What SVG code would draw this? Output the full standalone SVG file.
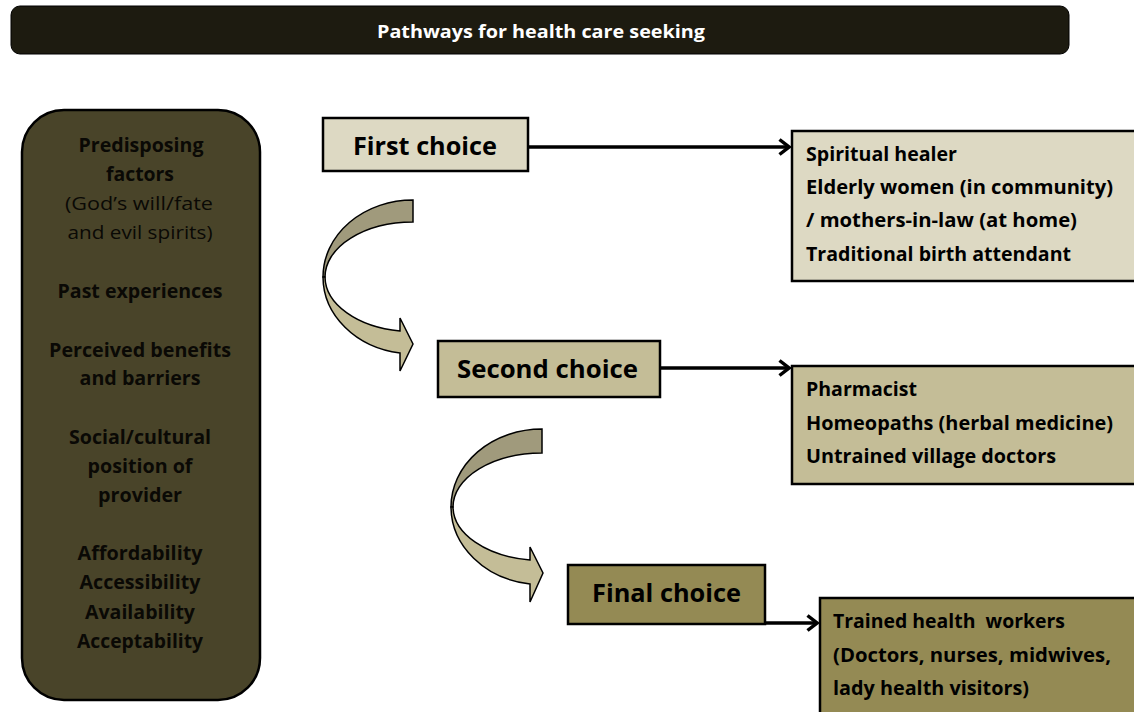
<svg xmlns="http://www.w3.org/2000/svg" width="1134" height="712" viewBox="0 0 1134 712">
<style>
.t{font-family:"Open Sans","Liberation Sans",sans-serif;font-weight:bold;fill:#000}
.r{font-weight:normal}
.box{stroke:#000;stroke-width:2.5}
.lbl{font-size:19px}
.side{font-size:19px;text-anchor:middle;fill:#0a0905}
.big{font-size:25px;text-anchor:middle}
.conn{stroke:#000;stroke-width:3.5;fill:none}
.curve{stroke:#000;stroke-width:1.5}
</style>
<defs>
<marker id="chev" markerWidth="13" markerHeight="18" refX="11" refY="9" orient="auto" markerUnits="userSpaceOnUse">
<polyline points="1.5,1.5 11,9 1.5,16.5" fill="none" stroke="#000" stroke-width="3.5"/>
</marker>
</defs>
<rect width="1134" height="712" fill="#fff"/>
<g id="title">
<rect x="11" y="6" width="1058" height="48" rx="9" fill="#1d1b10" stroke="#000" stroke-width="1"/>
<text x="541" y="38" class="t" style="font-size:18px;fill:#fff;text-anchor:middle" textLength="328" lengthAdjust="spacingAndGlyphs">Pathways for health care seeking</text>
</g>
<g id="factors">
<rect x="22" y="110" width="238" height="590" rx="42" fill="#494429" stroke="#000" stroke-width="2.5"/>
<text class="t side" x="141" y="152" textLength="125" lengthAdjust="spacingAndGlyphs">Predisposing</text>
<text class="t side" x="140" y="181" textLength="68" lengthAdjust="spacingAndGlyphs">factors</text>
<text class="t side r" x="139" y="210" textLength="148" lengthAdjust="spacingAndGlyphs">(God’s will/fate</text>
<text class="t side r" x="140" y="239" textLength="145" lengthAdjust="spacingAndGlyphs">and evil spirits)</text>
<text class="t side" x="140" y="298" textLength="165" lengthAdjust="spacingAndGlyphs">Past experiences</text>
<text class="t side" x="140" y="357" textLength="182" lengthAdjust="spacingAndGlyphs">Perceived benefits</text>
<text class="t side" x="140" y="385" textLength="121" lengthAdjust="spacingAndGlyphs">and barriers</text>
<text class="t side" x="140" y="444" textLength="142" lengthAdjust="spacingAndGlyphs">Social/cultural</text>
<text class="t side" x="140" y="473" textLength="105" lengthAdjust="spacingAndGlyphs">position of</text>
<text class="t side" x="140" y="502" textLength="84" lengthAdjust="spacingAndGlyphs">provider</text>
<text class="t side" x="140" y="560" textLength="125" lengthAdjust="spacingAndGlyphs">Affordability</text>
<text class="t side" x="140" y="589" textLength="121" lengthAdjust="spacingAndGlyphs">Accessibility</text>
<text class="t side" x="140" y="619" textLength="110" lengthAdjust="spacingAndGlyphs">Availability</text>
<text class="t side" x="140" y="648" textLength="126" lengthAdjust="spacingAndGlyphs">Acceptability</text>
</g>
<g id="first">
<rect class="box" x="323" y="118" width="205" height="53" fill="#ddd9c3"/>
<text class="t big" x="425" y="155" textLength="144" lengthAdjust="spacingAndGlyphs">First choice</text>
</g>
<g id="second">
<rect class="box" x="438" y="341" width="222" height="56" fill="#c4bd97"/>
<text class="t big" x="547.5" y="378" textLength="181" lengthAdjust="spacingAndGlyphs">Second choice</text>
</g>
<g id="final">
<rect class="box" x="568" y="565" width="197" height="59" fill="#948a54"/>
<text class="t big" x="666.5" y="602" textLength="149" lengthAdjust="spacingAndGlyphs">Final choice</text>
</g>
<g id="first-providers">
<rect class="box" x="792" y="131" width="350" height="150" fill="#ddd9c3"/>
<text class="t lbl" x="806" y="161" textLength="151" lengthAdjust="spacingAndGlyphs">Spiritual healer</text>
<text class="t lbl" x="806" y="194" textLength="307" lengthAdjust="spacingAndGlyphs">Elderly women (in community)</text>
<text class="t lbl" x="806" y="227" textLength="271" lengthAdjust="spacingAndGlyphs">/ mothers-in-law (at home)</text>
<text class="t lbl" x="806" y="261" textLength="265" lengthAdjust="spacingAndGlyphs">Traditional birth attendant</text>
</g>
<g id="second-providers">
<rect class="box" x="792" y="366" width="350" height="118" fill="#c4bd97"/>
<text class="t lbl" x="806" y="396" textLength="111" lengthAdjust="spacingAndGlyphs">Pharmacist</text>
<text class="t lbl" x="806" y="430" textLength="307" lengthAdjust="spacingAndGlyphs">Homeopaths (herbal medicine)</text>
<text class="t lbl" x="806" y="463" textLength="250" lengthAdjust="spacingAndGlyphs">Untrained village doctors</text>
</g>
<g id="final-providers">
<rect class="box" x="820" y="598" width="322" height="130" fill="#948a54"/>
<text class="t lbl" x="833" y="628" style="white-space:pre" textLength="232" lengthAdjust="spacingAndGlyphs">Trained health  workers</text>
<text class="t lbl" x="833" y="662" textLength="278" lengthAdjust="spacingAndGlyphs">(Doctors, nurses, midwives,</text>
<text class="t lbl" x="833" y="695" textLength="196" lengthAdjust="spacingAndGlyphs">lady health visitors)</text>
</g>
<g id="connectors">
<line class="conn" x1="528" y1="147" x2="789" y2="147" marker-end="url(#chev)"/>
<line class="conn" x1="660" y1="368" x2="789" y2="368" marker-end="url(#chev)"/>
<line class="conn" x1="765" y1="623" x2="817" y2="623" marker-end="url(#chev)"/>
<path class="curve" fill="#a09a7c" d="M413,200 A90,77 0 0 0 323,277 L325,277 A88,55 0 0 1 413,222 Z"/>
<path class="curve" fill="#c4bd97" d="M323,277 A90,77 0 0 0 400,353 L400,371 L413,344 L400,318 L400,331 A88,55 0 0 1 325,277 Z"/>
<path class="curve" fill="#a09a7c" d="M542,429 A91,78 0 0 0 451,507 L453,507 A89,54 0 0 1 542,453 Z"/>
<path class="curve" fill="#c4bd97" d="M451,507 A91,78 0 0 0 530,584 L530,602 L543,573 L530,547 L530,560 A89,54 0 0 1 453,507 Z"/>
</g>
</svg>
